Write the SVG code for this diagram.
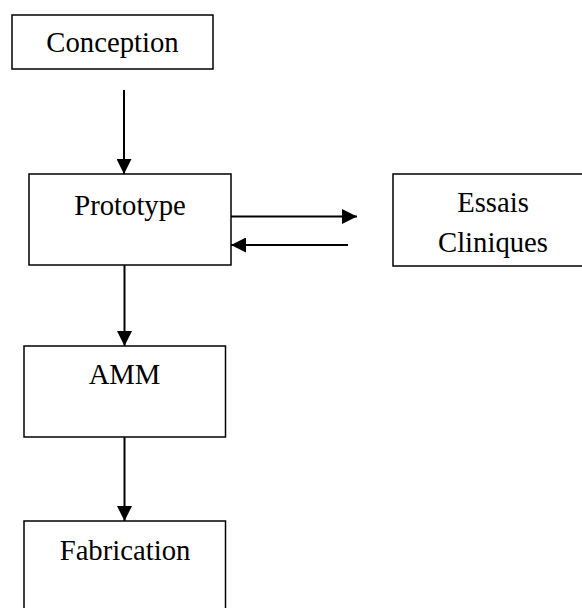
<svg xmlns="http://www.w3.org/2000/svg" width="582" height="608" viewBox="0 0 582 608">
<style>
.box{fill:#fff;stroke:#000;stroke-width:1.5}
.lbl{font-family:'Liberation Serif','Times New Roman','DejaVu Serif',serif;font-size:28.7px;fill:#000;text-anchor:middle}
.con{stroke:#000;stroke-width:2;fill:none}
</style>
<defs>
<marker id="ah" markerUnits="userSpaceOnUse" markerWidth="16" markerHeight="15" refX="15" refY="7.5" orient="auto">
<path d="M0,0 L15,7.5 L0,15 Z" fill="#000"/>
</marker>
</defs>
<rect width="582" height="608" fill="#fff"/>
<g id="conception"><rect class="box" x="12" y="15" width="201" height="54"/><text class="lbl" x="112.5" y="52" font-family="Liberation Serif, serif">Conception</text></g>
<g id="prototype"><rect class="box" x="29" y="174" width="202" height="91"/><text class="lbl" x="130" y="215" font-family="Liberation Serif, serif">Prototype</text></g>
<g id="essais"><rect class="box" x="393" y="174" width="200" height="92"/><text class="lbl" x="493" y="212" font-family="Liberation Serif, serif">Essais</text><text class="lbl" x="493" y="252" font-family="Liberation Serif, serif">Cliniques</text></g>
<g id="amm"><rect class="box" x="24" y="346" width="201.5" height="91"/><text class="lbl" x="124.5" y="384" font-family="Liberation Serif, serif">AMM</text></g>
<g id="fabrication"><rect class="box" x="24" y="521" width="201.5" height="95"/><text class="lbl" x="125" y="560" font-family="Liberation Serif, serif">Fabrication</text></g>
<g id="connectors">
<line class="con" x1="124" y1="90" x2="124" y2="174" marker-end="url(#ah)"/>
<line class="con" x1="231" y1="216.5" x2="357" y2="216.5" marker-end="url(#ah)"/>
<line class="con" x1="348" y1="245" x2="231" y2="245" marker-end="url(#ah)"/>
<line class="con" x1="124.5" y1="265" x2="124.5" y2="346" marker-end="url(#ah)"/>
<line class="con" x1="124.5" y1="437" x2="124.5" y2="521" marker-end="url(#ah)"/>
</g>
</svg>
